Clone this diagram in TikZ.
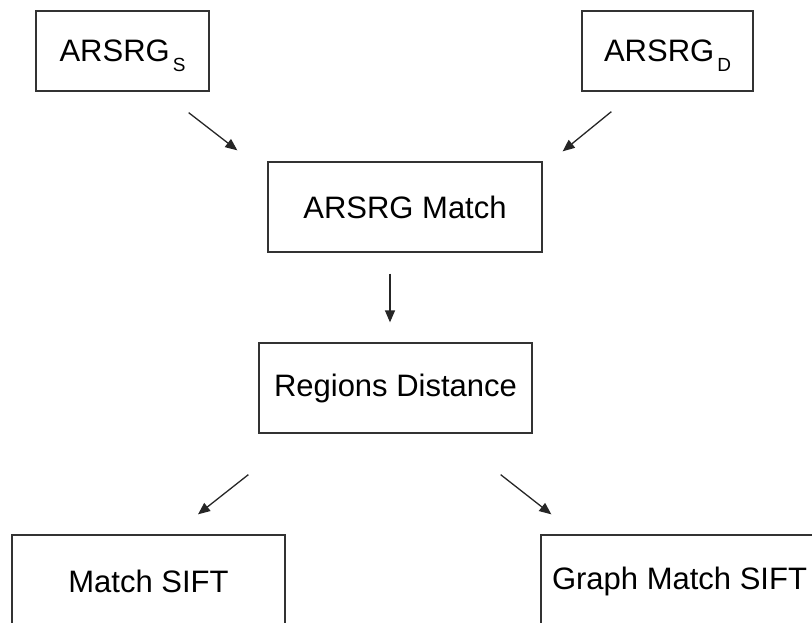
\documentclass[tikz,border=0pt]{standalone}
\usepackage{fontspec}
\setmainfont{Liberation Sans}
\usetikzlibrary{arrows.meta}
\tikzset{
  box/.style={draw=black!80, line width=1.3pt, inner sep=0pt, fill=white,
    font=\fontsize{31}{36}\selectfont},
  arr/.style={draw=black!85, line width=1.3pt, -{Triangle[length=12pt,width=10pt]}}
}
% lowered index that does not move the label off centre
\newcommand{\sbs}[1]{\hspace{3pt}\smash{\fontsize{19}{20}\selectfont\raisebox{-10pt}{#1}}}
\begin{document}
\begin{tikzpicture}[x=1pt,y=-1pt]
  \useasboundingbox (0,0) rectangle (812,623);
  % top inputs
  \node[box, minimum width=173pt, minimum height=80pt] (S) at (122.5,51) {ARSRG\sbs{S}};
  \node[box, minimum width=171pt, minimum height=80pt] (D) at (667.5,51) {ARSRG\sbs{D}};
  % matching and distance steps
  \node[box, minimum width=274pt, minimum height=90pt] (M) at (405,207) {ARSRG Match};
  \node[box, minimum width=273pt, minimum height=90pt] (R) at (395.5,388) {Regions Distance};
  % outputs (running past the page edge)
  \node[box, minimum width=273pt, minimum height=92pt] (MS) at (148.5,581) {Match SIFT};
  \node[box, minimum width=277pt, minimum height=92pt] (GS) at (679.5,581) {Graph Match SIFT};
  % connectors
  \draw[arr] ([shift={(-21,21)}]S.south east) -- ([shift={(-30,-11)}]M.north west);
  \draw[arr] ([shift={(30,20)}]D.south west) -- ([shift={(20,-10)}]M.north east);
  \draw[arr] ([shift={(-15,21)}]M.south) -- ([shift={(-5.5,-20)}]R.north);
  \draw[arr] ([shift={(-10,41)}]R.south west) -- ([shift={(49.5,-20)}]MS.north);
  \draw[arr] ([shift={(-32,41)}]R.south east) -- ([shift={(11,-20)}]GS.north west);
\end{tikzpicture}
\end{document}
